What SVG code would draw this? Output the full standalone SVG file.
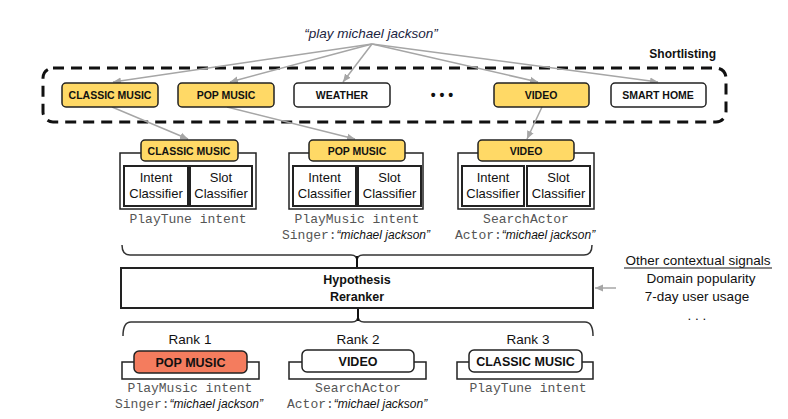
<svg xmlns="http://www.w3.org/2000/svg" width="788" height="419" viewBox="0 0 788 419">
<defs>
<marker id="ah" markerUnits="userSpaceOnUse" markerWidth="9" markerHeight="8" refX="8" refY="4" orient="auto">
<path d="M0,0.5 L8,4 L0,7.5 Z" fill="#a6a6a6"/>
</marker>
<style>
.dom{stroke:#222;stroke-width:1.5}
.y{fill:#ffd966}
.w{fill:#fff}
.lbl{font-family:"Liberation Sans",Arial,sans-serif;font-weight:bold;font-size:10.5px;fill:#111;text-anchor:middle}
.lbl2{font-family:"Liberation Sans",Arial,sans-serif;font-weight:bold;font-size:12.5px;fill:#111;text-anchor:middle}
.cls{font-family:"Liberation Sans",Arial,sans-serif;font-size:13px;fill:#111;text-anchor:middle}
.mono{font-family:"Liberation Mono","Courier New",monospace;font-size:13px;fill:#555}
.it{font-family:"Liberation Sans",Arial,sans-serif;font-style:italic;font-size:12px;fill:#111}
.reg{font-family:"Liberation Sans",Arial,sans-serif;font-size:13.5px;fill:#111;text-anchor:middle}
.box{fill:#fff;stroke:#222;stroke-width:1.5}
.ibox{fill:#fff;stroke:#222;stroke-width:2}
.conn{stroke:#a6a6a6;stroke-width:1.5;fill:none}
.brace{stroke:#333;stroke-width:1.5;fill:none}
</style>
</defs>
<rect width="788" height="419" fill="#fff"/>

<text x="371" y="38" font-family="Liberation Sans,Arial,sans-serif" font-style="italic" font-size="13.5" fill="#1c2541" text-anchor="middle">“play michael jackson”</text>

<g id="shortlisting">
<rect x="43" y="68" width="683" height="54" rx="10" fill="none" stroke="#111" stroke-width="3" stroke-dasharray="11,7"/>
<text x="716" y="58" font-family="Liberation Sans,Arial,sans-serif" font-weight="bold" font-size="12" fill="#111" text-anchor="end">Shortlisting</text>
</g>

<g id="connectors">
<line class="conn" x1="372" y1="44" x2="113" y2="82" marker-end="url(#ah)"/>
<line class="conn" x1="372" y1="44" x2="230" y2="82" marker-end="url(#ah)"/>
<line class="conn" x1="372" y1="44" x2="343" y2="82" marker-end="url(#ah)"/>
<line class="conn" x1="372" y1="44" x2="538" y2="82" marker-end="url(#ah)"/>
<line class="conn" x1="372" y1="44" x2="658" y2="82" marker-end="url(#ah)"/>
<line class="conn" x1="112" y1="107" x2="188" y2="139" marker-end="url(#ah)"/>
<line class="conn" x1="227" y1="107" x2="355" y2="139" marker-end="url(#ah)"/>
<line class="conn" x1="542" y1="107" x2="527" y2="139" marker-end="url(#ah)"/>
<line class="conn" x1="616" y1="288" x2="595" y2="288" marker-end="url(#ah)"/>
<path class="brace" d="M122,245 Q122,255 130,255 H351 Q357,255 357,261 M592,245 Q592,255 584,255 H363 Q357,255 357,261"/>
<line x1="357" y1="256" x2="357" y2="268" stroke="#111" stroke-width="2"/>
<path class="brace" d="M123,336 Q123,322 131,322 H352 Q358,322 358,316 M593,336 Q593,322 585,322 H364 Q358,322 358,316"/>
<line x1="358" y1="308" x2="358" y2="321" stroke="#111" stroke-width="2"/>
</g>

<g id="d-classic">
<rect class="dom y" x="62" y="83" width="96" height="24" rx="4"/>
<text class="lbl" x="110" y="99">CLASSIC MUSIC</text>
</g>
<g id="d-pop">
<rect class="dom y" x="178" y="83" width="96" height="24" rx="4"/>
<text class="lbl" x="226" y="99">POP MUSIC</text>
</g>
<g id="d-weather">
<rect class="dom w" x="294" y="83" width="96" height="24" rx="4"/>
<text class="lbl" x="342" y="99">WEATHER</text>
</g>
<g id="d-dots">
<text x="442" y="100" font-family="Liberation Sans,Arial,sans-serif" font-size="14" font-weight="bold" fill="#111" text-anchor="middle">• • •</text>
</g>
<g id="d-video">
<rect class="dom y" x="494" y="83" width="95" height="24" rx="4"/>
<text class="lbl" x="541" y="99">VIDEO</text>
</g>
<g id="d-smarthome">
<rect class="dom w" x="611" y="83" width="95" height="24" rx="4"/>
<text class="lbl" x="658" y="99">SMART HOME</text>
</g>

<g id="m-classic">
<rect class="box" x="120" y="153" width="136" height="56"/>
<rect class="ibox" x="124" y="166" width="64" height="40"/>
<rect class="ibox" x="190" y="166" width="62" height="40"/>
<text class="cls" x="156" y="182">Intent</text>
<text class="cls" x="156" y="198">Classifier</text>
<text class="cls" x="221" y="182">Slot</text>
<text class="cls" x="221" y="198">Classifier</text>
<rect class="dom y" x="141" y="140" width="97" height="21" rx="4"/>
<text class="lbl" x="189" y="155">CLASSIC MUSIC</text>
<text class="mono" x="188" y="223" text-anchor="middle">PlayTune intent</text>
</g>

<g id="m-pop">
<rect class="box" x="289" y="153" width="134" height="56"/>
<rect class="ibox" x="293" y="166" width="63" height="40"/>
<rect class="ibox" x="358" y="166" width="63" height="40"/>
<text class="cls" x="324.5" y="182">Intent</text>
<text class="cls" x="324.5" y="198">Classifier</text>
<text class="cls" x="389.5" y="182">Slot</text>
<text class="cls" x="389.5" y="198">Classifier</text>
<rect class="dom y" x="309" y="140" width="96" height="21" rx="4"/>
<text class="lbl" x="357" y="155">POP MUSIC</text>
<text class="mono" x="357" y="223" text-anchor="middle">PlayMusic intent</text>
<text x="282" y="239"><tspan class="mono">Singer:</tspan><tspan class="it">“michael jackson”</tspan></text>
</g>

<g id="m-video">
<rect class="box" x="458" y="153" width="136" height="56"/>
<rect class="ibox" x="462" y="166" width="62" height="40"/>
<rect class="ibox" x="527" y="166" width="63" height="40"/>
<text class="cls" x="493" y="182">Intent</text>
<text class="cls" x="493" y="198">Classifier</text>
<text class="cls" x="558.5" y="182">Slot</text>
<text class="cls" x="558.5" y="198">Classifier</text>
<rect class="dom y" x="478" y="140" width="96" height="21" rx="4"/>
<text class="lbl" x="526" y="155">VIDEO</text>
<text class="mono" x="526" y="223" text-anchor="middle">SearchActor</text>
<text x="455" y="239"><tspan class="mono">Actor:</tspan><tspan class="it">“michael jackson”</tspan></text>
</g>

<g id="reranker">
<rect x="121" y="268" width="472" height="40" fill="#fff" stroke="#222" stroke-width="2"/>
<text class="lbl2" x="357" y="284">Hypothesis</text>
<text class="lbl2" x="357" y="301">Reranker</text>
</g>

<g id="signals">
<text class="reg" x="698" y="265">Other contextual signals</text>
<line x1="624" y1="268" x2="772" y2="268" stroke="#111" stroke-width="1"/>
<text class="reg" x="701" y="283">Domain popularity</text>
<text class="reg" x="697" y="301">7-day user usage</text>
<text class="reg" x="697" y="320">. . .</text>
</g>

<g id="rank1">
<text class="reg" x="190" y="344" font-size="12.5">Rank 1</text>
<path d="M122,362 V379 H259 V362 Z" fill="#fff" stroke="#222" stroke-width="1.5"/>
<rect x="134" y="351" width="113" height="22" rx="5" fill="#f47c5e" stroke="#222" stroke-width="1.5"/>
<text class="lbl2" x="190.5" y="367">POP MUSIC</text>
<text class="mono" x="190" y="392" text-anchor="middle">PlayMusic intent</text>
<text x="115" y="408"><tspan class="mono">Singer:</tspan><tspan class="it">“michael jackson”</tspan></text>
</g>

<g id="rank2">
<text class="reg" x="358" y="344" font-size="12.5">Rank 2</text>
<path d="M289,362 V379 H426 V362 Z" fill="#fff" stroke="#222" stroke-width="1.5"/>
<rect x="302" y="350" width="112" height="22" rx="5" fill="#fff" stroke="#222" stroke-width="1.5"/>
<text class="lbl2" x="358" y="366">VIDEO</text>
<text class="mono" x="358" y="392" text-anchor="middle">SearchActor</text>
<text x="287" y="408"><tspan class="mono">Actor:</tspan><tspan class="it">“michael jackson”</tspan></text>
</g>

<g id="rank3">
<text class="reg" x="528" y="344" font-size="12.5">Rank 3</text>
<path d="M457,362 V379 H593 V362 Z" fill="#fff" stroke="#222" stroke-width="1.5"/>
<rect x="469" y="350" width="113" height="22" rx="5" fill="#fff" stroke="#222" stroke-width="1.5"/>
<text class="lbl2" x="525.5" y="366">CLASSIC MUSIC</text>
<text class="mono" x="528" y="392" text-anchor="middle">PlayTune intent</text>
</g>
</svg>
